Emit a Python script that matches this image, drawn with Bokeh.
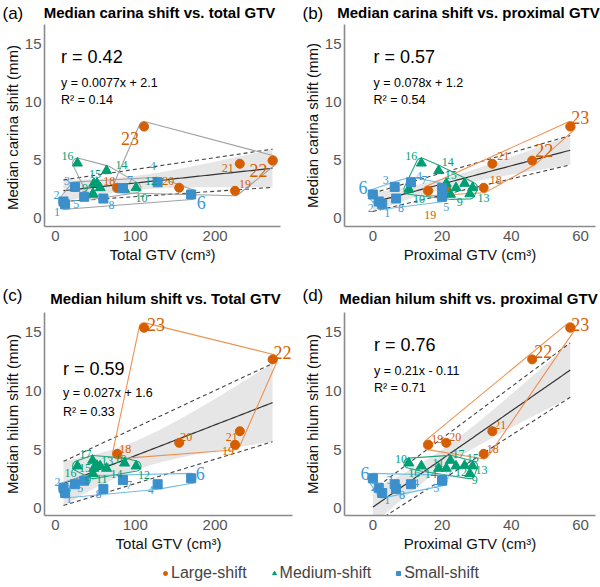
import numpy as np
from bokeh.plotting import figure
from bokeh.models import ColumnDataSource, Range1d, Label, Legend, LegendItem, FixedTicker
from bokeh.layouts import column, row
from bokeh.embed import file_html
from bokeh.resources import INLINE

# ---------------- data ----------------
patient = list(range(1, 24))
group = ["Small"] * 8 + ["Medium"] * 9 + ["Large"] * 6
total_gtv = [12, 10, 24.5, 128, 36, 170, 84.5, 60,
             47, 86.5, 48, 101, 56, 64, 52, 27.5, 46.5,
             77.5, 225, 155, 231, 272, 111]
proximal_gtv = [2.7, 1.7, 6.3, 11, 20, 0, 20, 6.7,
                28, 10.4, 21.2, 24, 28.8, 19, 26.5, 14, 22.4,
                32, 16, 21.2, 34.5, 46, 57]
carina_shift = [1.2, 1.45, 2.7, 3.1, 1.85, 2.05, 2.6, 1.7,
                2.1, 2.5, 3.0, 2.63, 2.63, 4.1, 3.0, 4.75, 2.06,
                2.63, 2.37, 2.63, 4.7, 4.97, 7.9]
hilum_shift = [1.3, 1.75, 2.05, 2.05, 2.35, 2.55, 2.4, 1.65,
               2.95, 3.85, 3.4, 3.6, 3.6, 3.4, 3.65, 3.6, 4.08,
               4.64, 5.42, 5.58, 6.57, 12.7, 15.4]
group_names = ["Large", "Medium", "Small"]
legend_labels = ["Large-shift", "Medium-shift", "Small-shift"]

stats_text = {
    "a": ["r = 0.42", "y = 0.0077x + 2.1", "R\u00b2 = 0.14"],
    "b": ["r = 0.57", "y = 0.078x + 1.2", "R\u00b2 = 0.54"],
    "c": ["r = 0.59", "y = 0.027x + 1.6", "R\u00b2 = 0.33"],
    "d": ["r = 0.76", "y = 0.21x - 0.11", "R\u00b2 = 0.71"],
}
x_ticks_total = [0, 100, 200]
x_ticks_prox = [0, 20, 40, 60]
y_ticks = [0, 5, 10, 15]

# ---------------- styles ----------------
FONT = "Liberation Sans"
marker_of = {"Large": "circle", "Medium": "triangle", "Small": "square"}
size_of = {"Large": 9, "Medium": 10, "Small": 9}
point_color = {"Large": "#D55E00", "Medium": "#009E73", "Small": "#3B8FCB"}
text_color = {"Large": "#D55E00", "Medium": "#009E73", "Small": "#3A9AD9"}
hull_color = {"Large": "#F0914F", "Medium": "#26A67F", "Small": "#72BCE8"}
big_labels = {6, 22, 23}

# label offsets (screen px, +dy = down) per panel; missing => label not shown
offsets = {
    "a": {1: (-8, 8), 2: (-7, -6), 3: (-8, -6), 4: (-5, -16), 5: (-8, 7), 6: (10, 8), 7: (7, -8), 8: (8, 6),
          9: (-8, -6), 10: (17, 9), 12: (15, -7), 14: (15, -6), 15: (-2, -9), 16: (-10, -7),
          18: (-8, -7), 19: (10, -7), 20: (-11, -7), 21: (-12, 4), 22: (-14, 10), 23: (-14, 12)},
    "b": {1: (5, 9), 2: (-8, 7), 3: (-9, -7), 4: (8, -6), 5: (4, 10), 6: (-10, -7), 7: (-18, -8), 8: (5, 9),
          9: (-10, 8), 10: (10, 10), 13: (11, 10), 14: (9, -9), 15: (-14, -8), 16: (-10, -7),
          18: (12, -8), 19: (2, 24), 21: (11, -8), 22: (12, -10), 23: (10, -9)},
    "c": {1: (4, 6), 2: (-6, -6), 3: (-7, 5), 4: (-7, 6), 5: (-4, 7), 6: (9, -5), 7: (6, 5), 8: (-5, 5),
          9: (-5, 6), 10: (-4, -4), 11: (8, 11), 12: (8, 9), 13: (7, -5), 14: (10, 6), 15: (-12, 3),
          16: (-7, 7), 17: (-7, -6), 18: (8, -5), 19: (-7, 6), 20: (7, -6), 21: (-8, 6), 22: (10, -7), 23: (12, -3)},
    "d": {1: (5, 7), 2: (-5, -1), 3: (-5, -4), 4: (5, -1), 5: (-6, 7), 6: (-8, -5), 7: (6, -5), 8: (6, 6),
          9: (5, 6), 10: (-8, -4), 11: (-8, -5), 12: (5, 6), 13: (9, 4), 14: (-8, 6), 15: (8, -7),
          16: (-7, 7), 17: (8, -6), 18: (9, -5), 19: (9, -6), 20: (9, -6), 21: (8, -6), 22: (11, -8), 23: (10, -3)},
}


def regression(xs, ys):
    x = np.array(xs, dtype=float)
    y = np.array(ys, dtype=float)
    n = len(x)
    b, a = np.polyfit(x, y, 1)
    xg = np.linspace(x.min(), x.max(), 100)
    yhat = a + b * xg
    res = y - (a + b * x)
    s = np.sqrt((res ** 2).sum() / (n - 2))
    sxx = ((x - x.mean()) ** 2).sum()
    se = s * np.sqrt(1.0 / n + (xg - x.mean()) ** 2 / sxx)
    t = 2.0796
    return xg, yhat, yhat - t * se, yhat + t * se


def hull_outline(xs, ys, sx, sy, r=5.0, n_arc=10):
    pts = sorted(set(zip([v * sx for v in xs], [v * sy for v in ys])))

    def cross(o, a, b):
        return (a[0] - o[0]) * (b[1] - o[1]) - (a[1] - o[1]) * (b[0] - o[0])

    lower = []
    for p in pts:
        while len(lower) >= 2 and cross(lower[-2], lower[-1], p) <= 0:
            lower.pop()
        lower.append(p)
    upper = []
    for p in reversed(pts):
        while len(upper) >= 2 and cross(upper[-2], upper[-1], p) <= 0:
            upper.pop()
        upper.append(p)
    hull = lower[:-1] + upper[:-1]
    out = []
    m = len(hull)
    for i in range(m):
        prev, cur, nxt = hull[i - 1], hull[i], hull[(i + 1) % m]
        e1 = (cur[0] - prev[0], cur[1] - prev[1])
        e2 = (nxt[0] - cur[0], nxt[1] - cur[1])
        a1 = np.arctan2(-e1[0], e1[1])
        a2 = np.arctan2(-e2[0], e2[1])
        if a2 < a1:
            a2 += 2 * np.pi
        for t in np.linspace(a1, a2, n_arc):
            out.append((cur[0] + r * np.cos(t), cur[1] + r * np.sin(t)))
    out.append(out[0])
    return [p[0] / sx for p in out], [p[1] / sy for p in out]


def make_header(key, title, width, height, title_cx, title_y, tag_y):
    h = figure(width=width, height=height, x_range=Range1d(0, width), y_range=Range1d(0, height),
               toolbar_location=None, output_backend="svg", min_border=0)
    h.axis.visible = False
    h.grid.visible = False
    h.outline_line_color = None
    h.add_layout(Label(x=2, y=tag_y, text="(" + key + ")", text_font=FONT, text_font_size="17px",
                       text_baseline="middle", text_color="black"))
    h.add_layout(Label(x=title_cx, y=title_y, text=title, text_font=FONT, text_font_size="15px",
                       text_font_style="bold", text_align="center", text_baseline="middle",
                       text_color="black"))
    return h


def make_panel(key, xs, ys, xlabel, ylabel, xr, yr, xticks, fw, fh,
               left, right, bottom, stat_pos, hull_colors):
    p = figure(width=left + fw + right, height=fh + bottom,
               x_range=Range1d(*xr), y_range=Range1d(*yr),
               toolbar_location=None, output_backend="svg",
               min_border_left=left, min_border_right=right,
               min_border_top=0, min_border_bottom=bottom)
    p.outline_line_color = None
    p.grid.visible = False
    p.background_fill_color = "white"
    for ax in (p.xaxis[0], p.yaxis[0]):
        ax.axis_line_color = "#8A8A8A"
        ax.axis_line_width = 1.6
        ax.major_tick_line_color = None
        ax.minor_tick_line_color = None
        ax.major_tick_out = 0
        ax.major_tick_in = 0
        ax.major_label_text_font = FONT
        ax.major_label_text_font_size = "15px"
        ax.major_label_text_color = "#555555"
        ax.axis_label_text_font = FONT
        ax.axis_label_text_font_size = "15px"
        ax.axis_label_text_font_style = "normal"
        ax.axis_label_text_color = "#111111"
    p.xaxis[0].ticker = FixedTicker(ticks=xticks)
    p.yaxis[0].ticker = FixedTicker(ticks=y_ticks)
    p.xaxis[0].axis_label = xlabel
    p.yaxis[0].axis_label = ylabel
    p.xaxis[0].major_label_standoff = 4
    p.xaxis[0].axis_label_standoff = 2
    p.yaxis[0].major_label_standoff = 3
    p.yaxis[0].axis_label_standoff = 1

    # regression band + lines
    xg, yhat, lo, hi = regression(xs, ys)
    p.varea(x=xg, y1=lo, y2=hi, fill_color="#E6E6E6", fill_alpha=1.0)
    p.line([xg[0], xg[-1]], [hi[0], hi[-1]], line_color="#444444", line_width=1.1, line_dash="4 3")
    p.line([xg[0], xg[-1]], [lo[0], lo[-1]], line_color="#444444", line_width=1.1, line_dash="4 3")
    p.line(xg, yhat, line_color="#333333", line_width=1.2)

    # hulls
    sx = fw / (xr[1] - xr[0])
    sy = fh / (yr[1] - yr[0])
    for g in group_names:
        gx = [x for x, gg in zip(xs, group) if gg == g]
        gy = [y for y, gg in zip(ys, group) if gg == g]
        hx, hy = hull_outline(gx, gy, sx, sy)
        p.line(hx, hy, line_color=hull_colors[g], line_width=1.1)

    # points
    for g in group_names:
        src = ColumnDataSource(dict(
            x=[x for x, gg in zip(xs, group) if gg == g],
            y=[y for y, gg in zip(ys, group) if gg == g]))
        p.scatter("x", "y", source=src, marker=marker_of[g], size=size_of[g],
                  fill_color=point_color[g], line_color=point_color[g])

    # point labels
    off = offsets[key]
    lab = dict(x=[], y=[], text=[], dx=[], dy=[], size=[], color=[])
    for pid, x, y, g in zip(patient, xs, ys, group):
        if pid not in off:
            continue
        lab["x"].append(x)
        lab["y"].append(y)
        lab["text"].append(str(pid))
        lab["dx"].append(off[pid][0])
        lab["dy"].append(off[pid][1])
        lab["size"].append("18px" if pid in big_labels else "12px")
        lab["color"].append(text_color[g])
    p.text("x", "y", text="text", source=ColumnDataSource(lab), x_offset="dx", y_offset="dy",
           text_font_size="size", text_color="color", text_align="center",
           text_baseline="middle", text_font=FONT)

    # stats text
    st = stats_text[key]
    sxp, y_r, y_eq, y_r2 = stat_pos
    p.add_layout(Label(x=sxp, y=y_r, text=st[0], text_font=FONT, text_font_size="18px",
                       text_baseline="middle", text_color="black"))
    p.add_layout(Label(x=sxp, y=y_eq, text=st[1], text_font=FONT, text_font_size="12.5px",
                       text_baseline="middle", text_color="black"))
    p.add_layout(Label(x=sxp, y=y_r2, text=st[2], text_font=FONT, text_font_size="12.5px",
                       text_baseline="middle", text_color="black"))
    return p


gray_hull = {g: "#A0A0A0" for g in group_names}

ha = make_header("a", "Median carina shift vs. total GTV", 300, 24, 159, 12, 11)
pa = make_panel("a", total_gtv, carina_shift,
                "Total GTV (cm\u00b3)", "Median carina shift  (mm)",
                (-13.8, 282), (-0.71, 16.7), x_ticks_total, 242, 202,
                38, 20, 54, (7, 13.9, 11.7, 10.2), gray_hull)
hb = make_header("b", "Median carina shift vs. proximal GTV", 300, 24, 168, 12, 11)
pb = make_panel("b", proximal_gtv, carina_shift,
                "Proximal GTV (cm\u00b3)", "Median carina shift (mm)",
                (-8.2, 64.3), (-0.71, 16.7), x_ticks_prox, 253, 202,
                42, 5, 54, (0.2, 13.9, 11.7, 10.2), hull_color)
hc = make_header("c", "Median hilum shift vs. Total GTV", 300, 32, 165, 14, 17)
pc = make_panel("c", total_gtv, hilum_shift,
                "Total GTV (cm\u00b3)", "Median hilum shift (mm)",
                (-13.8, 297), (-0.62, 16.7), x_ticks_total, 254, 203,
                38, 8, 42, (9.4, 11.9, 9.8, 8.25), hull_color)
hd = make_header("d", "Median hilum shift vs. proximal GTV", 300, 32, 168, 14, 17)
pd = make_panel("d", proximal_gtv, hilum_shift,
                "Proximal GTV (cm\u00b3)", "Median hilum shift (mm)",
                (-8.2, 64.3), (-0.62, 16.7), x_ticks_prox, 253, 203,
                42, 5, 42, (0.3, 13.9, 11.7, 10.3), hull_color)

# legend figure
pl = figure(width=600, height=30, x_range=(0, 1), y_range=(0, 1), toolbar_location=None,
            output_backend="svg", min_border=0)
pl.axis.visible = False
pl.grid.visible = False
pl.outline_line_color = None
items = []
for g, lbl in zip(group_names, legend_labels):
    r = pl.scatter(x=[-5], y=[-5], marker=marker_of[g], size=size_of[g],
                   fill_color=point_color[g], line_color=point_color[g])
    items.append(LegendItem(label=lbl, renderers=[r]))
leg = Legend(items=items, orientation="horizontal", location=(160, 4),
             label_text_font=FONT, label_text_font_size="16px", glyph_width=10,
             label_standoff=1, spacing=22, padding=0, margin=0,
             border_line_color=None, background_fill_alpha=0)
pl.add_layout(leg, "center")

layout = column(row(ha, hb), row(pa, pb), row(hc, hd), row(pc, pd), pl)
open("out.html", "w").write(file_html(layout, INLINE))
